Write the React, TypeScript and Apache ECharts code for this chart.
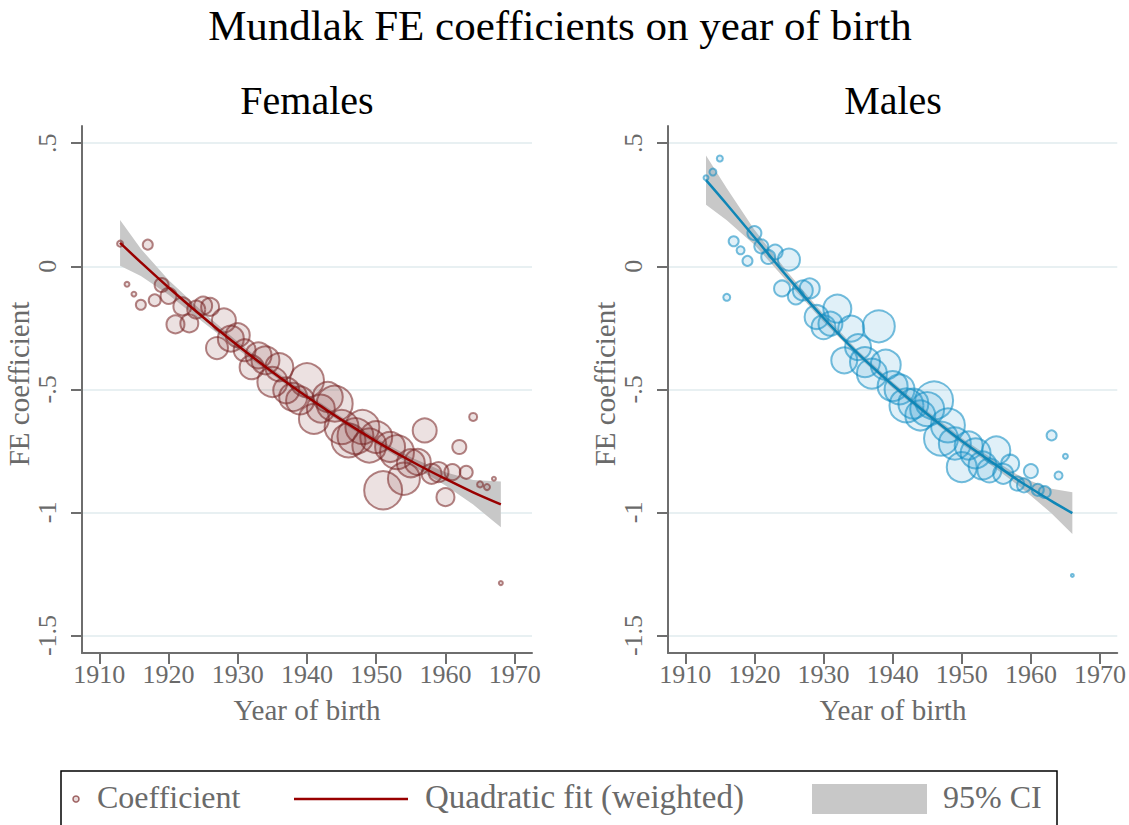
import React, { useEffect, useRef } from "react";
import * as echarts from "echarts";

const FONT = '"Liberation Serif", "Times New Roman", serif';
const GRAY = "#6a6a6a";

const yTickValues = [-1.5, -1, -0.5, 0, 0.5];
const yTickLabels = ["-1.5", "-1", "-.5", "0", ".5"];
const xTickValues = [1910, 1920, 1930, 1940, 1950, 1960, 1970];
const xTickLabels = ["1910", "1920", "1930", "1940", "1950", "1960", "1970"];

// Females
const femaleYears = [
  1913, 1914, 1915, 1916, 1917, 1918, 1919, 1920, 1921, 1922, 1923, 1924, 1925, 1926,
  1927, 1928, 1929, 1930, 1931, 1932, 1933, 1934, 1935, 1936, 1937, 1938, 1939, 1940,
  1941, 1942, 1943, 1944, 1945, 1946, 1947, 1948, 1949, 1950, 1951, 1952, 1953, 1954,
  1955, 1956, 1957, 1958, 1959, 1960, 1961, 1962, 1963, 1964, 1965, 1966, 1967, 1968,
];
const femaleCoef = [
  0.092, -0.073, -0.113, -0.156, 0.088, -0.138, -0.076, -0.12, -0.236, -0.163, -0.232, -0.176, -0.16, -0.165,
  -0.332, -0.22, -0.294, -0.28, -0.341, -0.41, -0.362, -0.382, -0.47, -0.41, -0.504, -0.531, -0.545, -0.463,
  -0.62, -0.578, -0.531, -0.558, -0.653, -0.707, -0.69, -0.653, -0.728, -0.694, -0.91, -0.734, -0.755, -0.863,
  -0.8, -0.795, -0.667, -0.843, -0.836, -0.938, -0.836, -0.734, -0.837, -0.612, -0.886, -0.897, -0.863, -1.287,
];
const femaleWeight = [
  9, 6, 6, 25, 25, 36, 49, 64, 81, 81, 81, 81, 81, 81,
  121, 144, 169, 144, 121, 144, 169, 196, 225, 196, 169, 196, 196, 289,
  225, 196, 225, 324, 289, 289, 324, 289, 289, 256, 361, 225, 289, 256,
  196, 169, 144, 100, 100, 81, 64, 49, 42, 16, 9, 9, 4, 4,
];
const femaleFitYears = [1913, 1916, 1920, 1925, 1930, 1935, 1940, 1945, 1950, 1955, 1960, 1964, 1968];
const femaleFit = [0.095, 0.016, -0.086, -0.207, -0.322, -0.429, -0.53, -0.624, -0.711, -0.791, -0.864, -0.918, -0.967];
const femaleCiLow = [0.002, -0.039, -0.116, -0.227, -0.337, -0.441, -0.542, -0.636, -0.723, -0.806, -0.891, -0.968, -1.06];
const femaleCiHigh = [0.188, 0.071, -0.056, -0.187, -0.307, -0.417, -0.518, -0.612, -0.699, -0.776, -0.837, -0.868, -0.874];

// Males
const maleYears = [
  1913, 1914, 1915, 1916, 1917, 1918, 1919, 1920, 1921, 1922, 1923, 1924, 1925, 1926,
  1927, 1928, 1929, 1930, 1931, 1932, 1933, 1934, 1935, 1936, 1937, 1938, 1939, 1940,
  1941, 1942, 1943, 1944, 1945, 1946, 1947, 1948, 1949, 1950, 1951, 1952, 1953, 1954,
  1955, 1956, 1957, 1958, 1959, 1960, 1961, 1962, 1963, 1964, 1965, 1966,
];
const maleCoef = [
  0.36, 0.383, 0.438, -0.126, 0.102, 0.065, 0.022, 0.135, 0.081, 0.038, 0.058, -0.09, 0.027, -0.122,
  -0.098, -0.09, -0.206, -0.247, -0.233, -0.172, -0.382, -0.253, -0.328, -0.389, -0.436, -0.244, -0.4, -0.487,
  -0.5, -0.565, -0.558, -0.606, -0.58, -0.545, -0.7, -0.646, -0.72, -0.816, -0.728, -0.76, -0.809, -0.829,
  -0.748, -0.843, -0.802, -0.883, -0.89, -0.832, -0.908, -0.917, -0.687, -0.85, -0.772, -1.256,
];
const maleWeight = [
  6, 12, 9, 12, 25, 16, 25, 49, 49, 49, 56, 64, 121, 64,
  100, 100, 144, 144, 144, 196, 169, 169, 169, 225, 225, 256, 225, 225,
  225, 289, 225, 225, 289, 361, 289, 289, 256, 225, 196, 225, 196, 144,
  196, 100, 81, 49, 49, 49, 36, 36, 25, 16, 6, 2,
];
const maleFitYears = [1913, 1916, 1920, 1925, 1930, 1935, 1940, 1945, 1950, 1955, 1958, 1960, 1963, 1966];
const maleFit = [0.35, 0.252, 0.118, -0.05, -0.21, -0.355, -0.482, -0.6, -0.71, -0.808, -0.866, -0.902, -0.954, -1.003];
const maleCiLow = [0.25, 0.187, 0.088, -0.07, -0.225, -0.367, -0.494, -0.612, -0.722, -0.823, -0.886, -0.932, -1.004, -1.088];
const maleCiHigh = [0.45, 0.317, 0.148, -0.03, -0.195, -0.343, -0.47, -0.588, -0.698, -0.793, -0.846, -0.872, -0.904, -0.918];

const GRIDS = [
  { left: 82, top: 126, width: 450, height: 527 },
  { left: 668, top: 126, width: 450, height: 527 },
];

function labelFor(values: number[], labels: string[]) {
  return (v: number) => {
    for (let i = 0; i < values.length; i++) if (Math.abs(values[i] - v) < 1e-6) return labels[i];
    return "";
  };
}

function makeXAxis(i: number) {
  return {
    type: "value",
    gridIndex: i,
    min: 1907.5,
    max: 1972.5,
    axisLine: { show: true, onZero: false, lineStyle: { color: "#6e6e6e", width: 2 } },
    axisTick: { show: true, length: 11, customValues: xTickValues, lineStyle: { color: "#6e6e6e", width: 2 } },
    axisLabel: {
      customValues: xTickValues,
      formatter: labelFor(xTickValues, xTickLabels),
      fontFamily: FONT,
      fontSize: 26,
      color: GRAY,
      margin: 8,
    },
    splitLine: { show: false },
  };
}

function makeYAxis(i: number) {
  return {
    type: "value",
    gridIndex: i,
    min: -1.571,
    max: 0.57,
    axisLine: { show: true, onZero: false, lineStyle: { color: "#6e6e6e", width: 2 } },
    axisTick: { show: true, length: 11, customValues: yTickValues, lineStyle: { color: "#6e6e6e", width: 2 } },
    axisLabel: {
      customValues: yTickValues,
      formatter: labelFor(yTickValues, yTickLabels),
      rotate: 90,
      fontFamily: FONT,
      fontSize: 26,
      color: GRAY,
      margin: 22,
    },
    splitLine: { show: true, lineStyle: { color: "#e8f0f2", width: 2 } },
  };
}

function bandSeries(i: number, years: number[], lo: number[], hi: number[]) {
  return {
    type: "custom",
    xAxisIndex: i,
    yAxisIndex: i,
    silent: true,
    z: 2,
    data: [[years[0], hi[0]]],
    renderItem: (_params: any, api: any) => {
      const pts: number[][] = [];
      for (let k = 0; k < years.length; k++) pts.push(api.coord([years[k], hi[k]]));
      for (let k = years.length - 1; k >= 0; k--) pts.push(api.coord([years[k], lo[k]]));
      return { type: "polygon", shape: { points: pts }, style: { fill: "#c8c8c8" } };
    },
  };
}

function fitSeries(i: number, years: number[], fit: number[], color: string) {
  return {
    type: "line",
    xAxisIndex: i,
    yAxisIndex: i,
    data: years.map((y, k) => [y, fit[k]]),
    smooth: 0.35,
    symbol: "none",
    silent: true,
    z: 5,
    lineStyle: { color, width: 2.5 },
  };
}

function scatterSeries(i: number, years: number[], coef: number[], w: number[], fill: string, stroke: string) {
  return {
    type: "scatter",
    xAxisIndex: i,
    yAxisIndex: i,
    data: years.map((y, k) => [y, coef[k], w[k]]),
    symbolSize: (v: number[]) => 2 * Math.sqrt(v[2]),
    silent: true,
    z: 4,
    itemStyle: { color: fill, borderColor: stroke, borderWidth: 2 },
  };
}

const F_FILL = "rgba(120,40,40,0.17)";
const F_STROKE = "rgba(120,35,35,0.7)";
const M_FILL = "rgba(40,155,205,0.18)";
const M_STROKE = "rgba(15,140,195,0.72)";

export default function App() {
  const ref = useRef<HTMLDivElement>(null);
  useEffect(() => {
    if (!ref.current) return;
    const chart = echarts.init(ref.current, undefined, { renderer: "svg" });
    const text = (x: number, y: number, s: string, size: number, color: string, align = "center", rotation = 0) => ({
      type: "text",
      x,
      y,
      rotation,
      silent: true,
      style: { text: s, fontFamily: FONT, fontSize: size, fill: color, align, verticalAlign: "middle" },
    });
    chart.setOption({
      animation: false,
      backgroundColor: "#ffffff",
      grid: GRIDS,
      xAxis: [makeXAxis(0), makeXAxis(1)],
      yAxis: [makeYAxis(0), makeYAxis(1)],
      series: [
        bandSeries(0, femaleFitYears, femaleCiLow, femaleCiHigh),
        scatterSeries(0, femaleYears, femaleCoef, femaleWeight, F_FILL, F_STROKE),
        fitSeries(0, femaleFitYears, femaleFit, "#990000"),
        bandSeries(1, maleFitYears, maleCiLow, maleCiHigh),
        scatterSeries(1, maleYears, maleCoef, maleWeight, M_FILL, M_STROKE),
        fitSeries(1, maleFitYears, maleFit, "#0f86b6"),
      ],
      graphic: [
        text(560, 25, "Mundlak FE coefficients on year of birth", 43, "#000"),
        text(307, 100, "Females", 40, "#000"),
        text(893, 100, "Males", 40, "#000"),
        text(307, 710, "Year of birth", 29, GRAY),
        text(893, 710, "Year of birth", 29, GRAY),
        text(18.5, 384, "FE coefficient", 29, GRAY, "center", Math.PI / 2),
        text(604.5, 384, "FE coefficient", 29, GRAY, "center", Math.PI / 2),
        {
          type: "rect",
          silent: true,
          shape: { x: 61, y: 771, width: 996, height: 80 },
          style: { fill: "#fff", stroke: "#000", lineWidth: 1.5 },
        },
        {
          type: "circle",
          silent: true,
          shape: { cx: 76, cy: 799, r: 3 },
          style: { fill: F_FILL, stroke: F_STROKE, lineWidth: 1.5 },
        },
        text(97, 797, "Coefficient", 32, GRAY, "left"),
        {
          type: "line",
          silent: true,
          shape: { x1: 294, y1: 799, x2: 408, y2: 799 },
          style: { stroke: "#990000", lineWidth: 2.5 },
        },
        text(425, 797, "Quadratic fit (weighted)", 33, GRAY, "left"),
        {
          type: "rect",
          silent: true,
          shape: { x: 812, y: 784, width: 115, height: 30 },
          style: { fill: "#c8c8c8" },
        },
        text(943, 797, "95% CI", 32, GRAY, "left"),
      ],
    });
    return () => chart.dispose();
  }, []);
  return (
    <div
      ref={ref}
      style={{ position: "absolute", left: 0, top: 0, width: 1129, height: 825, background: "#fff" }}
    />
  );
}
